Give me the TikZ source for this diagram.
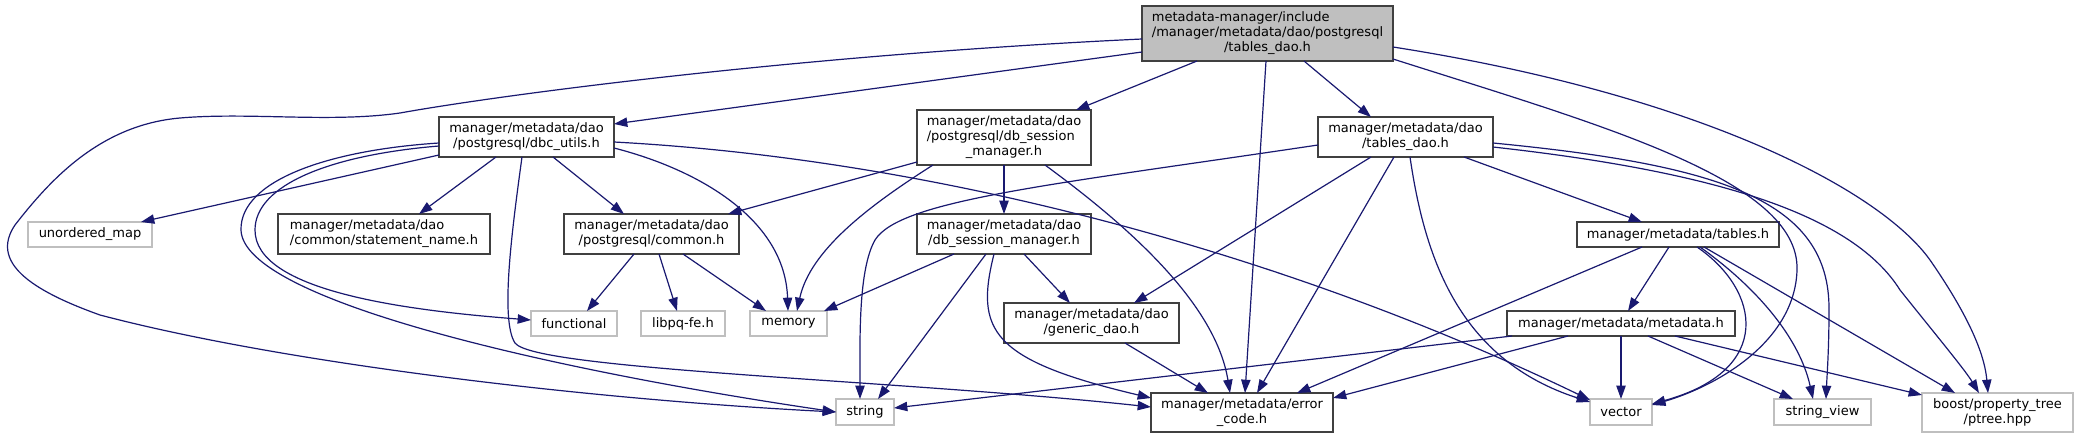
\documentclass[tikz,border=0pt]{standalone}
\usepackage{fontspec}
\setmainfont{DejaVu Sans}
\usetikzlibrary{arrows.meta,calc}
\definecolor{edgec}{HTML}{191970}
\definecolor{bordc}{HTML}{404040}
\definecolor{greyc}{HTML}{BFBFBF}
\newcommand\tlab[2]{\begin{tabular}{@{}l@{}}#1\\\multicolumn{1}{@{}c@{}}{#2}\end{tabular}}
\begin{document}
\begin{tikzpicture}[x=0.75pt,y=-0.75pt,
  fnode/.style={draw=bordc, line width=1pt, fill=white, inner sep=0pt, outer sep=0pt,
    font=\fontsize{9.75pt}{11.25pt}\selectfont, text=black},
  extnode/.style={fnode, draw=greyc},
  rootnode/.style={fnode, fill=greyc},
  sz/.style 2 args={minimum width=#1*0.75pt, minimum height=#2*0.75pt},
  dep/.style={draw=edgec, line width=0.9pt, -{Triangle[length=10pt,width=7pt]}}]
\useasboundingbox (0,0) rectangle (2078,439);
\fill[white] (0,0) rectangle (2078,439);

% nodes
\node[rootnode, sz={251}{55}] (top) at (1267.5,33.5) {\tlab{metadata-manager/include\\/manager/metadata/dao/postgresql}{/tables\_dao.h}};
\node[fnode, sz={175}{40}] (dbc) at (526.5,137) {\tlab{manager/metadata/dao}{/postgresql/dbc\_utils.h}};
\node[fnode, sz={174}{55}] (dbspg) at (1004,137.5) {\tlab{manager/metadata/dao\\/postgresql/db\_session}{\_manager.h}};
\node[fnode, sz={175}{40}] (tdao) at (1405.5,137) {\tlab{manager/metadata/dao}{/tables\_dao.h}};
\node[extnode, sz={124}{25}] (umap) at (90,234.5) {unordered\_map};
\node[fnode, sz={212}{40}] (stmt) at (384,234) {\tlab{manager/metadata/dao}{/common/statement\_name.h}};
\node[fnode, sz={175}{40}] (common) at (651.5,234) {\tlab{manager/metadata/dao}{/postgresql/common.h}};
\node[fnode, sz={174}{40}] (dbs) at (1004,234) {\tlab{manager/metadata/dao}{/db\_session\_manager.h}};
\node[fnode, sz={202}{25}] (tables) at (1678,234.5) {manager/metadata/tables.h};
\node[extnode, sz={86}{25}] (functional) at (574,323.5) {functional};
\node[extnode, sz={84}{25}] (libpq) at (683,323.5) {libpq-fe.h};
\node[extnode, sz={77}{25}] (memory) at (788.5,323.5) {memory};
\node[fnode, sz={175}{40}] (generic) at (1091.5,323) {\tlab{manager/metadata/dao}{/generic\_dao.h}};
\node[fnode, sz={228}{25}] (metadata) at (1621,323.5) {manager/metadata/metadata.h};
\node[extnode, sz={58}{26}] (string) at (865,412) {string};
\node[fnode, sz={182}{39}] (error) at (1242,412.5) {\tlab{manager/metadata/error}{\_code.h}};
\node[extnode, sz={62}{26}] (vector) at (1621,412) {vector};
\node[extnode, sz={97}{26}] (sview) at (1822.5,412) {string\_view};
\node[extnode, sz={151}{39}] (ptree) at (1997.5,412.5) {\tlab{boost/property\_tree}{/ptree.hpp}};

% edges from the root
\draw[dep] ($(top.north west)+(0,33)$) .. controls (800,55) and (500,95) .. (400,113) .. controls (330,123) and (250,112) .. (180,118) .. controls (100,125) and (50,180) .. (15,225) .. controls (-10,262) and (30,290) .. (100,315) .. controls (290,365) and (600,400) .. ($(string.north west)+(0,13)$);
\draw[dep] ($(top.north west)+(0,46)$) -- ($(dbc.north east)+(0,7)$);
\draw[dep] ($(top.south west)+(55,0)$) -- ($(dbspg.north west)+(159,0)$);
\draw[dep] ($(top.south west)+(124,0)$) -- ($(error.north west)+(94,0)$);
\draw[dep] ($(top.south west)+(162,0)$) -- ($(tdao.north west)+(53,0)$);
\draw[dep] ($(top.north east)+(0,53)$) .. controls (1600,125) and (1800,180) .. (1797,270) .. controls (1795,340) and (1720,385) .. ($(vector.north east)+(0,6)$);
\draw[dep] ($(top.north east)+(0,41)$) .. controls (1700,95) and (1880,190) .. (1930,260) .. controls (1975,325) and (1985,360) .. ($(ptree.north west)+(66,0)$);

% dbc_utils
\draw[dep] ($(dbc.south west)+(0,-2)$) -- ($(umap.north east)+(-11,0)$);
\draw[dep] ($(dbc.south west)+(57,0)$) -- ($(stmt.north west)+(141,0)$);
\draw[dep] ($(dbc.south west)+(114,0)$) -- ($(common.north west)+(60,0)$);
\draw[dep] ($(dbc.north west)+(0,29)$) .. controls (330,155) and (255,185) .. (255,230) .. controls (255,290) and (400,310) .. ($(functional.north west)+(0,9)$);
\draw[dep] ($(dbc.north west)+(0,26)$) .. controls (330,150) and (240,180) .. (241,230) .. controls (243,300) and (550,370) .. ($(string.north west)+(0,13)$);
\draw[dep] ($(dbc.south west)+(83,0)$) .. controls (512,230) and (500,320) .. (515,343) .. controls (535,370) and (900,380) .. ($(error.north west)+(0,14)$);
\draw[dep] ($(dbc.north east)+(0,31)$) .. controls (700,170) and (785,220) .. ($(memory.north west)+(38,0)$);
\draw[dep] ($(dbc.north east)+(0,25)$) .. controls (950,160) and (1300,260) .. ($(vector.north west)+(0,1)$);

% postgresql/db_session_manager.h
\draw[dep] ($(dbspg.south west)+(0,-3)$) -- ($(common.north east)+(-11,0)$);
\draw[dep] ($(dbspg.south west)+(16,0)$) .. controls (870,205) and (810,250) .. ($(memory.north west)+(47,0)$);
\draw[dep] (dbspg.south) -- (dbs.north);
\draw[dep] ($(dbspg.south west)+(128,0)$) .. controls (1120,220) and (1215,300) .. ($(error.north west)+(79,0)$);

% dao/tables_dao.h
\draw[dep] ($(tdao.north west)+(0,28)$) .. controls (1050,185) and (900,200) .. (875,240) .. controls (858,270) and (860,340) .. ($(string.north west)+(24,0)$);
\draw[dep] ($(tdao.south west)+(53,0)$) -- ($(generic.north west)+(130,0)$);
\draw[dep] ($(tdao.south west)+(76,0)$) -- ($(error.north west)+(106,0)$);
\draw[dep] ($(tdao.south west)+(92,0)$) .. controls (1425,260) and (1460,360) .. ($(vector.north west)+(0,3)$);
\draw[dep] ($(tdao.south west)+(146,0)$) -- ($(tables.north west)+(65,0)$);
\draw[dep] ($(tdao.north east)+(0,26)$) .. controls (1720,165) and (1830,200) .. (1829,310) .. controls (1829,350) and (1827,375) .. ($(sview.north west)+(52,0)$);
\draw[dep] ($(tdao.north east)+(0,30)$) .. controls (1700,170) and (1850,210) .. (1900,290) .. controls (1940,340) and (1965,370) .. ($(ptree.north west)+(57,0)$);

% tables.h
\draw[dep] ($(tables.south west)+(92,0)$) -- ($(metadata.north west)+(121,0)$);
\draw[dep] ($(tables.south west)+(65,0)$) -- ($(error.north west)+(146,0)$);
\draw[dep] ($(tables.south west)+(120,0)$) .. controls (1760,290) and (1775,370) .. ($(vector.north east)+(0,5)$);
\draw[dep] ($(tables.south west)+(123,0)$) .. controls (1760,290) and (1800,340) .. ($(sview.north west)+(39,0)$);
\draw[dep] ($(tables.south west)+(127,0)$) -- ($(ptree.north west)+(33,0)$);

% metadata.h
\draw[dep] ($(metadata.south west)+(5,0)$) -- ($(string.north east)+(0,9)$);
\draw[dep] ($(metadata.south west)+(61,0)$) -- ($(error.north east)+(0,5)$);
\draw[dep] ($(metadata.south west)+(114,0)$) -- (vector.north);
\draw[dep] ($(metadata.south west)+(141,0)$) -- ($(sview.north west)+(19,0)$);
\draw[dep] ($(metadata.south west)+(168,0)$) -- ($(ptree.north west)+(0,2)$);

% common.h
\draw[dep] ($(common.south west)+(70,0)$) -- ($(functional.north west)+(56,0)$);
\draw[dep] ($(common.south west)+(95,0)$) -- ($(libpq.north west)+(36,0)$);
\draw[dep] ($(common.south west)+(119,0)$) -- ($(memory.north west)+(16,0)$);

% dao/db_session_manager.h
\draw[dep] ($(dbs.south west)+(37,0)$) -- ($(memory.north east)+(-3,0)$);
\draw[dep] ($(dbs.south west)+(69,0)$) -- ($(string.north west)+(42,0)$);
\draw[dep] ($(dbs.south west)+(77,0)$) .. controls (975,330) and (990,360) .. ($(error.north west)+(0,5)$);
\draw[dep] ($(dbs.south west)+(107,0)$) -- ($(generic.north west)+(66,0)$);

% generic_dao.h
\draw[dep] ($(generic.south west)+(121,0)$) -- ($(error.north west)+(57,0)$);
\end{tikzpicture}
\end{document}
